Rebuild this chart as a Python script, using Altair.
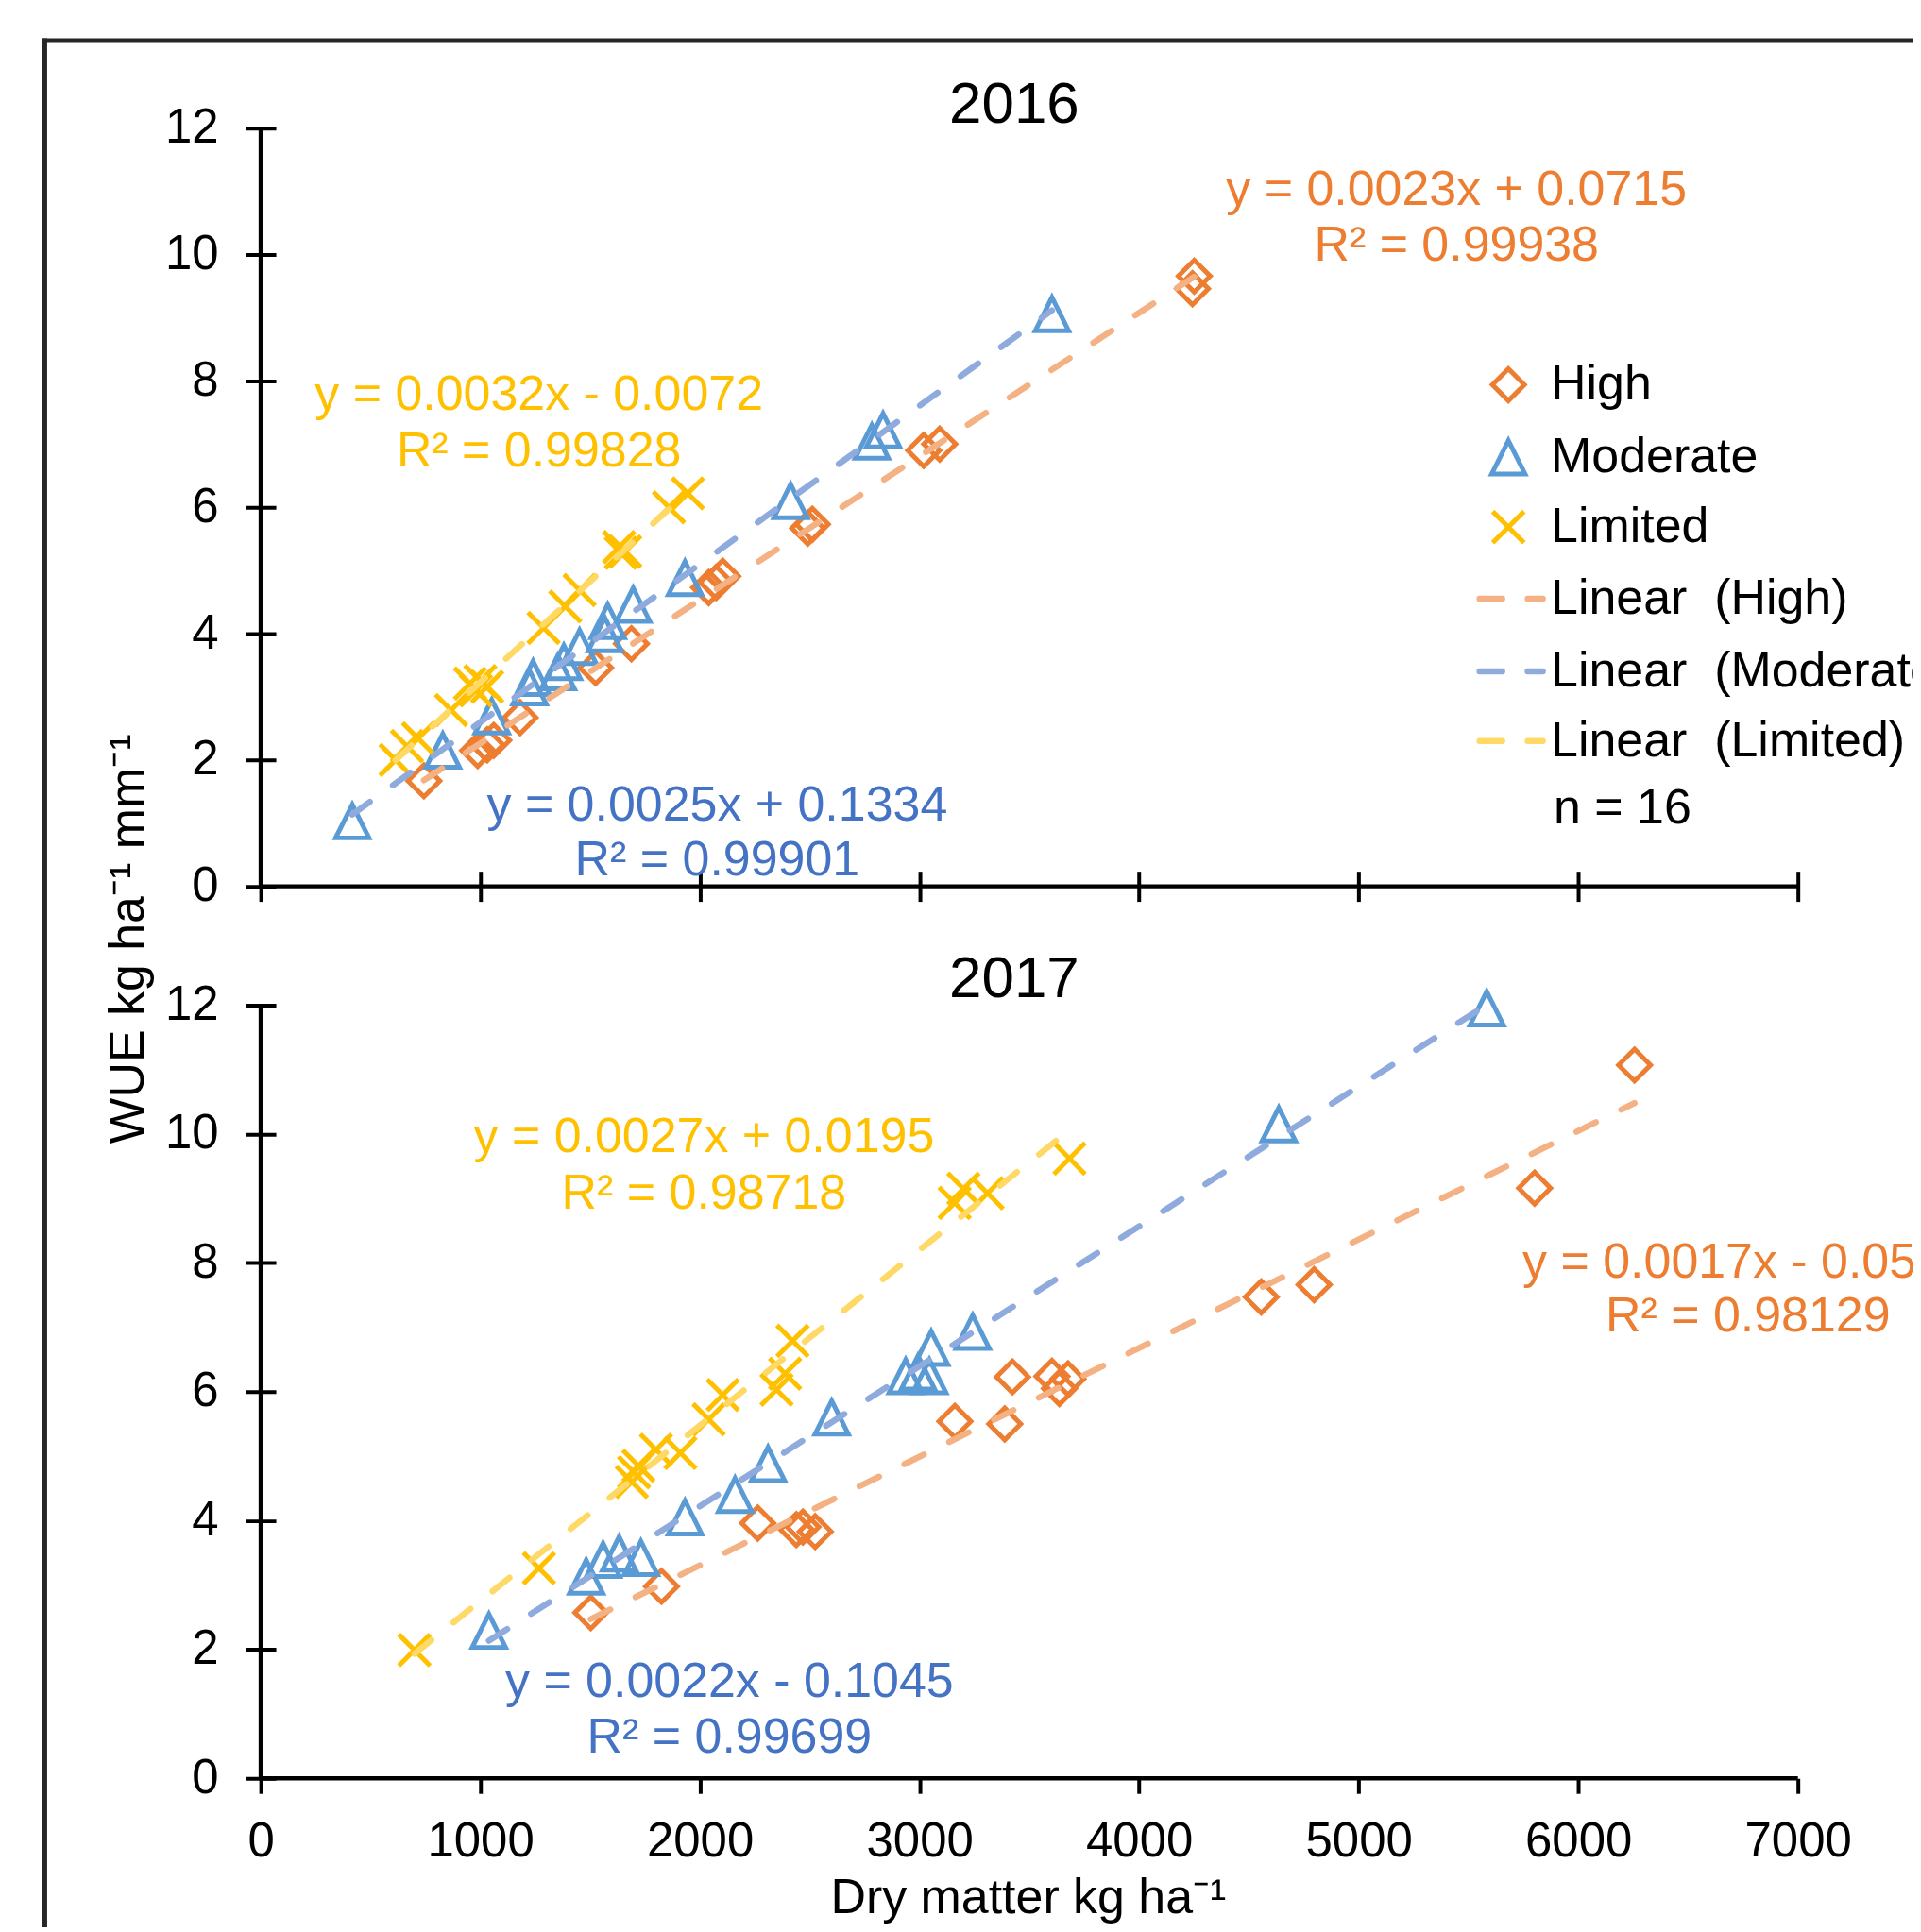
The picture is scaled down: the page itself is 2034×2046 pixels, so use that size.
import altair as alt
import pandas as pd

FONT = "Liberation Sans"

# ---------------- data ----------------
series = ["High", "Moderate", "Limited"]
marker_colors = ["#ED7D31", "#5B9BD5", "#FFC000"]
trend_colors = ["#F4B183", "#8FAADC", "#FFD966"]
eq_colors = ["#ED7D31", "#4472C4", "#FFC000"]

high16_x = [743, 988, 1031, 1061, 1181, 1525, 1688, 2040, 2074, 2104, 2491, 2512, 3019, 3092, 4243, 4251]
high16_y = [1.67, 2.15, 2.24, 2.31, 2.67, 3.46, 3.84, 4.73, 4.81, 4.91, 5.67, 5.73, 6.90, 7.00, 9.46, 9.66]
mod16_x = [417, 829, 1052, 1224, 1240, 1353, 1380, 1452, 1567, 1580, 1696, 1932, 2413, 2783, 2834, 3603]
mod16_y = [1.03, 2.15, 2.69, 3.15, 3.30, 3.39, 3.55, 3.79, 3.99, 4.20, 4.46, 4.88, 6.10, 7.04, 7.22, 9.06]
lim16_x = [614, 666, 717, 867, 953, 980, 1000, 1031, 1288, 1387, 1452, 1632, 1640, 1660, 1859, 1945]
lim16_y = [2.00, 2.22, 2.34, 2.79, 3.21, 3.10, 3.25, 3.16, 4.09, 4.43, 4.69, 5.37, 5.28, 5.30, 6.00, 6.22]

high17_x = [1503, 1825, 2263, 2439, 2469, 2525, 3161, 3388, 3423, 3603, 3637, 3676, 4556, 4797, 5801, 6256]
high17_y = [2.57, 2.98, 3.96, 3.86, 3.90, 3.83, 5.54, 5.50, 6.23, 6.24, 6.05, 6.20, 7.47, 7.66, 9.16, 11.07]
mod17_x = [1039, 1482, 1559, 1632, 1731, 1932, 2160, 2310, 2600, 2937, 2993, 3045, 3053, 3242, 4636, 5583]
mod17_y = [2.29, 3.13, 3.39, 3.49, 3.42, 4.05, 4.40, 4.88, 5.60, 6.24, 6.30, 6.24, 6.68, 6.93, 10.15, 11.95]
lim17_x = [700, 1267, 1690, 1700, 1720, 1800, 1911, 2040, 2104, 2349, 2388, 2422, 3160, 3200, 3310, 3683]
lim17_y = [1.99, 3.26, 4.60, 4.75, 4.85, 5.10, 5.05, 5.57, 5.95, 6.03, 6.28, 6.79, 8.93, 9.15, 9.08, 9.62]

eq16 = [("y = 0.0023x + 0.0715", "R² = 0.99938"),
        ("y = 0.0025x + 0.1334", "R² = 0.99901"),
        ("y = 0.0032x - 0.0072", "R² = 0.99828")]
eq17 = [("y = 0.0017x - 0.05", "R² = 0.98129"),
        ("y = 0.0022x - 0.1045", "R² = 0.99699"),
        ("y = 0.0027x + 0.0195", "R² = 0.98718")]
legend_labels = ["High", "Moderate", "Limited",
                 "Linear\u00a0 (High)", "Linear\u00a0 (Moderate)", "Linear\u00a0 (Limited)"]
n_label = "n = 16"
x_ticks = [0, 1000, 2000, 3000, 4000, 5000, 6000, 7000]
y_ticks = [0, 2, 4, 6, 8, 10, 12]

# ---------------- layout constants ----------------
W = 1630
H1 = 804
H2 = 820
FS = 52

shapes = ["M0,-1L1,0L0,1L-1,0Z", "M0,-1L1,1L-1,1Z", "M-1,-1L1,1M-1,1L1,-1"]
sizes = [1150, 1250, 1100]
MSW = 5

one = pd.DataFrame({"k": [0]})

xscale = alt.Scale(domain=[0, 7000], nice=False, zero=False)
yscale = alt.Scale(domain=[0, 12], nice=False, zero=False)

axis_common = dict(labelFont=FONT, labelFontSize=51, labelColor="black",
                   tickColor="black", tickWidth=4, grid=False, title=None, domain=False)
y_axis = alt.Axis(values=y_ticks, orient="left", offset=-16, tickSize=32, labelPadding=29, **axis_common)
x_axis_top = alt.Axis(values=x_ticks, orient="bottom", offset=-16, tickSize=32, labels=False, **axis_common)
x_axis_bot = alt.Axis(values=x_ticks, orient="bottom", offset=0, tickSize=16, labelPadding=26,
                      format="d", labelFlush=False, **axis_common)


def txt(s, x, y, color="black", size=FS, align="center", baseline="middle", angle=None):
    kw = dict(font=FONT, fontSize=size, color=color, align=align, baseline=baseline)
    if angle is not None:
        kw["angle"] = angle
    return alt.Chart(one).mark_text(**kw).encode(x=alt.value(x), y=alt.value(y), text=alt.value(s))


def rule(x, y, x2=None, y2=None, color="black", width=4.5, dash=None, cap="butt"):
    kw = dict(color=color, strokeWidth=width, strokeCap=cap)
    if dash is not None:
        kw["strokeDash"] = dash
    enc = dict(x=alt.value(x), y=alt.value(y))
    if x2 is not None:
        enc["x2"] = alt.value(x2)
    if y2 is not None:
        enc["y2"] = alt.value(y2)
    return alt.Chart(one).mark_rule(**kw).encode(**enc)


def panel(xs_list, ys_list, xaxis, H):
    layers = []
    for i in range(3):
        df = pd.DataFrame({"x": xs_list[i], "y": ys_list[i]})
        layers.append(
            alt.Chart(df).mark_point(shape=shapes[i], size=sizes[i], filled=False, strokeWidth=MSW,
                                     color=marker_colors[i], opacity=1).encode(
                x=alt.X("x:Q", scale=xscale, axis=xaxis),
                y=alt.Y("y:Q", scale=yscale, axis=y_axis)))
    for i in range(3):
        df = pd.DataFrame({"x": xs_list[i], "y": ys_list[i]})
        layers.append(
            alt.Chart(df).transform_regression("x", "y").mark_line(
                color=trend_colors[i], strokeWidth=6.5, strokeDash=[23, 30], strokeCap="round").encode(
                x=alt.X("x:Q", scale=xscale, axis=xaxis),
                y=alt.Y("y:Q", scale=yscale, axis=y_axis)))
    # axis lines
    layers.append(rule(0, 0, y2=H))
    layers.append(rule(0, H, x2=W))
    return layers


# ---------------- top panel (2016) ----------------
top_layers = panel([high16_x, mod16_x, lim16_x], [high16_y, mod16_y, lim16_y], x_axis_top, H1)
top_layers.append(txt("2016", 799, -6, size=62, baseline="alphabetic"))
# equations
top_layers += [txt(eq16[0][0], 1268, 65, eq_colors[0]), txt(eq16[0][1], 1268, 124, eq_colors[0])]
top_layers += [txt(eq16[1][0], 484, 718, eq_colors[1]), txt(eq16[1][1], 484, 776, eq_colors[1])]
top_layers += [txt(eq16[2][0], 295, 283, eq_colors[2]), txt(eq16[2][1], 295, 343, eq_colors[2])]
# legend
leg_y = [272, 349, 423, 499, 576, 650]
for i in range(3):
    top_layers.append(
        alt.Chart(one).mark_point(shape=shapes[i], size=sizes[i], filled=False, strokeWidth=MSW,
                                  color=marker_colors[i], opacity=1).encode(
            x=alt.value(1323), y=alt.value(leg_y[i])))
for i in range(3):
    top_layers.append(rule(1292.5, leg_y[3 + i], x2=1359.5, color=trend_colors[i], width=6.5,
                           dash=[24, 27], cap="round"))
for i in range(6):
    top_layers.append(txt(legend_labels[i], 1368, leg_y[i], align="left"))
top_layers.append(txt(n_label, 1371, 721, align="left"))
# y-axis title (shared)
top_layers.append(txt("WUE kg ha\u207b\u00b9 mm\u207b\u00b9", -140, 860, angle=270))
# figure frame (runs off the right and bottom edges, as in the cropped original)
top_layers.append(rule(-229, -93, y2=2000, color="#262626", width=5, cap="square"))
top_layers.append(rule(-229, -93, x2=1850, color="#262626", width=5, cap="square"))

top = alt.layer(*top_layers).properties(width=W, height=H1)

# ---------------- bottom panel (2017) ----------------
bot_layers = panel([high17_x, mod17_x, lim17_x], [high17_y, mod17_y, lim17_y], x_axis_bot, H2)
bot_layers.append(txt("2017", 799, -8, size=62, baseline="alphabetic"))
bot_layers += [txt(eq17[0][0], 1338, 273, eq_colors[0], align="left"),
               txt(eq17[0][1], 1577, 330, eq_colors[0])]
bot_layers += [txt(eq17[1][0], 497, 718, eq_colors[1]), txt(eq17[1][1], 497, 777, eq_colors[1])]
bot_layers += [txt(eq17[2][0], 470, 140, eq_colors[2]), txt(eq17[2][1], 470, 200, eq_colors[2])]
bot_layers.append(txt("Dry matter kg ha\u207b\u00b9", 814, 963, baseline="alphabetic"))

bottom = alt.layer(*bot_layers).properties(width=W, height=H2)

# negative right/bottom padding crops the frame and overflowing text at the page edge
chart = alt.vconcat(top, bottom, spacing=126, bounds="flush").configure_view(
    stroke=None).properties(padding={"left": 35.5, "top": 29.5, "right": -101.5, "bottom": -97.5})

chart.save("out.html", embed_options={"renderer": "svg", "actions": False})
